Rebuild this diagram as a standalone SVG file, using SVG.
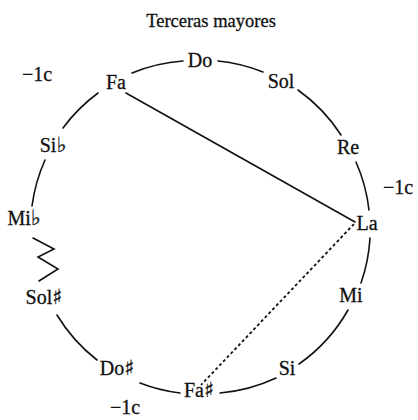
<svg xmlns="http://www.w3.org/2000/svg" width="418" height="420" viewBox="0 0 418 420">
<style>
text{font-family:"Liberation Serif","DejaVu Serif",serif;font-size:20px;fill:#111;stroke:#111;stroke-width:0.3;text-anchor:middle}
.t{font-size:18.5px}
.a{font-family:"DejaVu Sans",sans-serif;font-size:21px;font-weight:bold}
.c path,.c polyline,.c line{fill:none;stroke:#111;stroke-width:1.6;stroke-linecap:round;stroke-linejoin:miter}
.c .dot{stroke-dasharray:3 2.5;stroke-width:1.8;stroke-linecap:butt}
</style>
<rect width="418" height="420" fill="#fff"/>
<text id="title" class="t" x="211" y="27">Terceras mayores</text>
<g class="c" id="connectors">
<path d="M132,73 A165,165 0 0 1 183,61"/>
<path d="M218,61 A165,165 0 0 1 263,72"/>
<path d="M298,90 A165,165 0 0 1 341,135"/>
<path d="M356,162 A165,165 0 0 1 369,210"/>
<path d="M370,238 A165,165 0 0 1 361,283"/>
<path d="M348,310 A165,165 0 0 1 299,364"/>
<path d="M276,378 A165,165 0 0 1 220,393"/>
<path d="M180,393 A165,165 0 0 1 140,383"/>
<path d="M97,360 A165,165 0 0 1 57,315"/>
<path d="M32,206 A165,165 0 0 1 45,160"/>
<path d="M63,128 A165,165 0 0 1 98,93"/>
<polyline points="33,238 54,249 38,257 58,269 39,281"/>
<polyline points="126,93 355,222"/>
<line class="dot" x1="354" y1="224" x2="201" y2="385"/>
</g>
<g id="n-do"><text x="200" y="67">Do</text></g>
<g id="n-sol"><text x="281" y="88">Sol</text></g>
<g id="n-re"><text x="348" y="154">Re</text></g>
<g id="n-la"><text x="367" y="230">La</text></g>
<g id="n-mi"><text x="351" y="302">Mi</text></g>
<g id="n-si"><text x="287" y="375">Si</text></g>
<g id="n-fas"><text x="199" y="397">Fa<tspan class="a">♯</tspan></text></g>
<g id="n-dos"><text x="117" y="375">Do<tspan class="a">♯</tspan></text></g>
<g id="n-sols"><text x="44" y="304">Sol<tspan class="a">♯</tspan></text></g>
<g id="n-mib"><text x="24" y="225">Mi<tspan class="a">♭</tspan></text></g>
<g id="n-sib"><text x="53" y="152">Si<tspan class="a">♭</tspan></text></g>
<g id="n-fa"><text x="116" y="89">Fa</text></g>
<g id="labels">
<text x="37" y="81">−1c</text>
<text x="398" y="194">−1c</text>
<text x="125" y="414">−1c</text>
</g>
</svg>
